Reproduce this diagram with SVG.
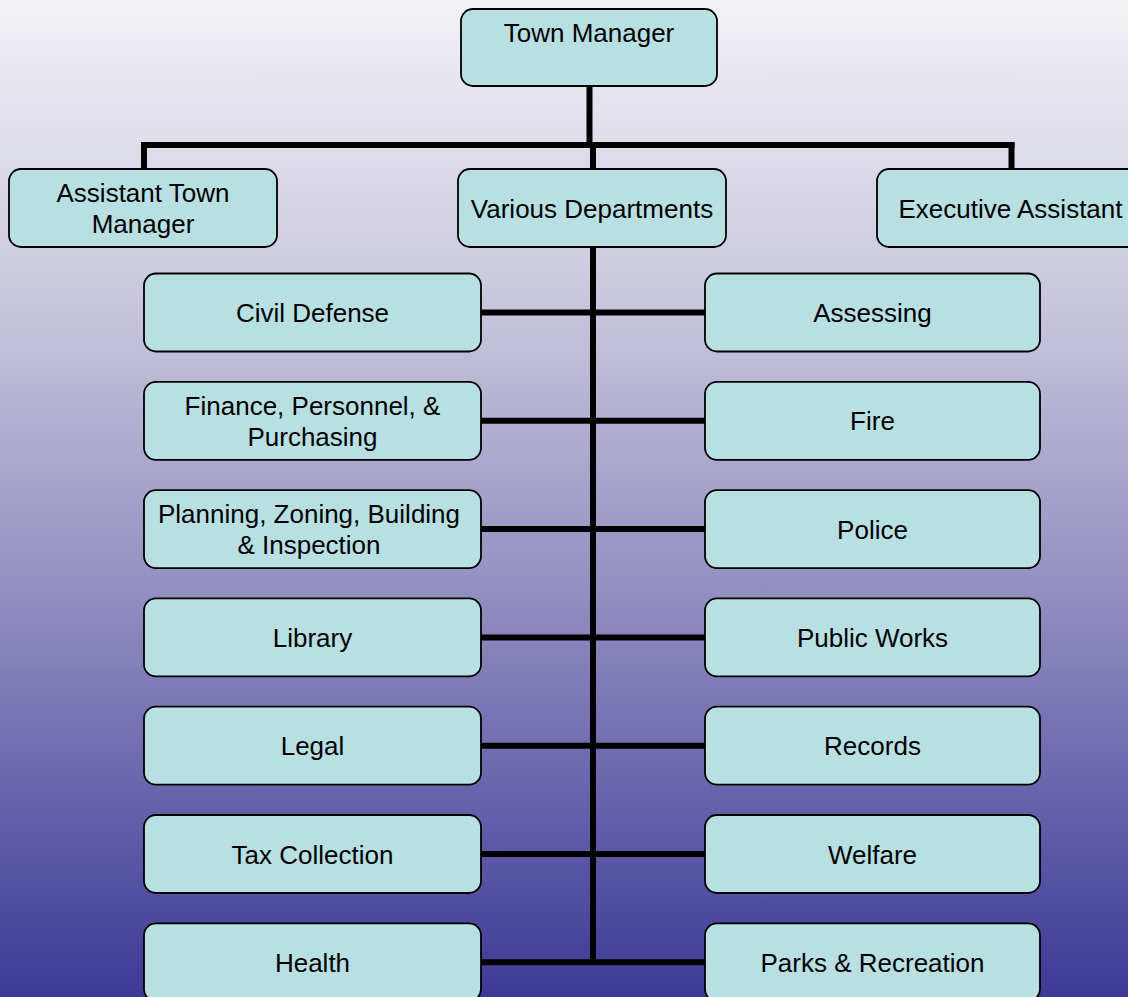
<svg xmlns="http://www.w3.org/2000/svg" width="1128" height="997" viewBox="0 0 1128 997">
<defs>
<linearGradient id="bg" x1="0" y1="0" x2="0" y2="1">
<stop offset="0" stop-color="#f2f2f6"/>
<stop offset="0.3" stop-color="#c9c7dd"/>
<stop offset="0.6" stop-color="#918dc0"/>
<stop offset="1" stop-color="#3d3997"/>
</linearGradient>
<style>
.box{fill:#b8e0e3;stroke:#000;stroke-width:1.8}
.t{font-family:"Liberation Sans",Arial,sans-serif;font-size:26px;fill:#000;text-anchor:middle}
.c{stroke:#000;stroke-width:6;fill:none}
</style>
</defs>
<rect x="0" y="0" width="1128" height="997" fill="url(#bg)"/>
<g id="connectors">
<path class="c" d="M589.5,86 V145"/>
<path class="c" d="M144,145 H1014.5"/>
<path class="c" d="M144,142 V169"/>
<path class="c" d="M593,145 V169"/>
<path class="c" d="M1011.5,142 V169"/>
<path class="c" d="M593,247 V965"/>
<path class="c" d="M481,312.5 H705"/>
<path class="c" d="M481,420.8 H705"/>
<path class="c" d="M481,529.1 H705"/>
<path class="c" d="M481,637.4 H705"/>
<path class="c" d="M481,745.7 H705"/>
<path class="c" d="M481,854 H705"/>
<path class="c" d="M481,962.3 H705"/>
</g>
<g id="town-manager"><rect class="box" x="461" y="9" width="256" height="77" rx="12"/><text class="t" x="589" y="42">Town Manager</text></g>
<g id="assistant-town-manager"><rect class="box" x="9" y="169" width="268" height="78" rx="12"/><text class="t" x="143" y="202">Assistant Town</text><text class="t" x="143" y="233">Manager</text></g>
<g id="various-departments"><rect class="box" x="458" y="169" width="268" height="78" rx="12"/><text class="t" x="592" y="217.5">Various Departments</text></g>
<g id="executive-assistant"><rect class="box" x="877" y="169" width="267" height="78" rx="12"/><text class="t" x="1010.5" y="217.5">Executive Assistant</text></g>
<g id="civil-defense"><rect class="box" x="144" y="273.5" width="337" height="78" rx="12"/><text class="t" x="312.5" y="322">Civil Defense</text></g>
<g id="finance"><rect class="box" x="144" y="381.8" width="337" height="78" rx="12"/><text class="t" x="312.5" y="414.5">Finance, Personnel, &amp;</text><text class="t" x="312.5" y="445.8">Purchasing</text></g>
<g id="planning"><rect class="box" x="144" y="490.1" width="337" height="78" rx="12"/><text class="t" x="309" y="522.8">Planning, Zoning, Building</text><text class="t" x="309" y="554.1">&amp; Inspection</text></g>
<g id="library"><rect class="box" x="144" y="598.4" width="337" height="78" rx="12"/><text class="t" x="312.5" y="646.9">Library</text></g>
<g id="legal"><rect class="box" x="144" y="706.7" width="337" height="78" rx="12"/><text class="t" x="312.5" y="755.2">Legal</text></g>
<g id="tax-collection"><rect class="box" x="144" y="815" width="337" height="78" rx="12"/><text class="t" x="312.5" y="863.5">Tax Collection</text></g>
<g id="health"><rect class="box" x="144" y="923.3" width="337" height="78" rx="12"/><text class="t" x="312.5" y="971.8">Health</text></g>
<g id="assessing"><rect class="box" x="705" y="273.5" width="335" height="78" rx="12"/><text class="t" x="872.5" y="322">Assessing</text></g>
<g id="fire"><rect class="box" x="705" y="381.8" width="335" height="78" rx="12"/><text class="t" x="872.5" y="430.3">Fire</text></g>
<g id="police"><rect class="box" x="705" y="490.1" width="335" height="78" rx="12"/><text class="t" x="872.5" y="538.6">Police</text></g>
<g id="public-works"><rect class="box" x="705" y="598.4" width="335" height="78" rx="12"/><text class="t" x="872.5" y="646.9">Public Works</text></g>
<g id="records"><rect class="box" x="705" y="706.7" width="335" height="78" rx="12"/><text class="t" x="872.5" y="755.2">Records</text></g>
<g id="welfare"><rect class="box" x="705" y="815" width="335" height="78" rx="12"/><text class="t" x="872.5" y="863.5">Welfare</text></g>
<g id="parks"><rect class="box" x="705" y="923.3" width="335" height="78" rx="12"/><text class="t" x="872.5" y="971.8">Parks &amp; Recreation</text></g>
</svg>
